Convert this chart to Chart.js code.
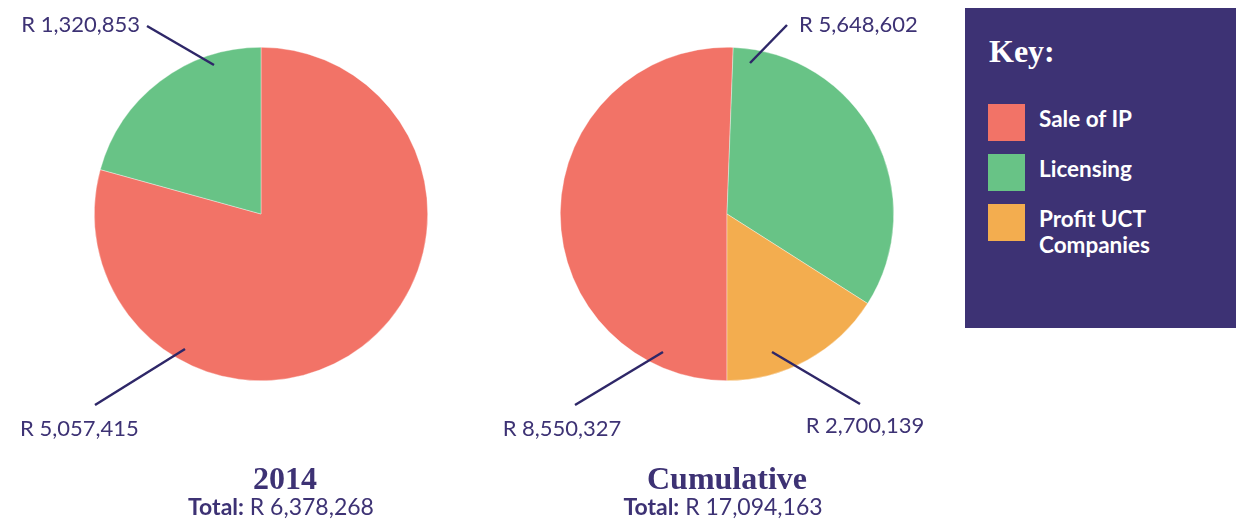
<!DOCTYPE html>
<html>
<head>
<meta charset="utf-8">
<script src="https://cdn.jsdelivr.net/npm/chart.js@4.4.0/dist/chart.umd.min.js"></script>
<style>
  body { margin: 0; background: #fff; width: 1236px; height: 519px; overflow: hidden; position: relative; font-family: Lato, sans-serif; }
  #pie1 { position: absolute; left: 0; top: 0; }
  #pie2 { position: absolute; left: 500px; top: 0; }
  #key { position: absolute; left: 965px; top: 8px; width: 271px; height: 320px; background: #3d3274; color: #fff; }
  #key h2 { position: absolute; left: 24px; top: 27px; margin: 0; font: bold 32px "Liberation Serif", serif; line-height: 32px; }
  .sw { position: absolute; left: 23px; width: 37px; height: 37px; }
  .lb { position: absolute; left: 74px; font: bold 22.5px Lato, sans-serif; line-height: 26px; }
</style>
</head>
<body>
<canvas id="pie1" width="500" height="519"></canvas>
<canvas id="pie2" width="465" height="519"></canvas>
<div id="key"><h2>Key:</h2></div>
<script>
    // Datos de las gráficas
    const categories = ['Sale of IP', 'Licensing', 'Profit UCT Companies'];
    const keyLabels = ['Sale of IP', 'Licensing', 'Profit UCT<br>Companies'];
    const colors = ['#f27367', '#68c386', '#f3ad4f'];
    const values2014 = [5057415, 1320853];
    const valuesCumulative = [8550327, 5648602, 2700139];
    const titles = ['2014', 'Cumulative'];
    const totals = [6378268, 17094163];

    const ink = '#3d3274';
    const money = v => 'R ' + v.toLocaleString('en-US');

    // Etiquetas con líneas guía y título inferior
    const calloutPlugin = {
        id: 'callouts',
        afterDraw(chart, args, opts) {
            const ctx = chart.ctx;
            const arc = chart.getDatasetMeta(0).data[0];
            const cx = arc.x, cy = arc.y;
            const values = chart.data.datasets[0].data;
            ctx.save();
            opts.items.forEach(it => {
                ctx.strokeStyle = '#2e2768';
                ctx.lineWidth = 2.5;
                ctx.beginPath();
                ctx.moveTo(cx + it.inner[0], cy + it.inner[1]);
                ctx.lineTo(cx + it.outer[0], cy + it.outer[1]);
                ctx.stroke();
                ctx.fillStyle = ink;
                ctx.font = '22px Lato';
                ctx.textAlign = it.align;
                ctx.textBaseline = 'alphabetic';
                ctx.fillText(money(values[it.index]), cx + it.text[0], cy + it.text[1]);
            });
            // título
            const tx = cx + opts.titleShift;
            ctx.textAlign = 'center';
            ctx.font = 'bold 32px "Liberation Serif"';
            ctx.fillText(opts.title, tx, 489);
            const bold = 'Total:';
            const rest = ' ' + money(opts.total);
            ctx.font = 'bold 23px Lato';
            const w1 = ctx.measureText(bold).width;
            ctx.font = '23px Lato';
            const w2 = ctx.measureText(rest).width;
            const x0 = tx - 4 - (w1 + w2) / 2;
            ctx.textAlign = 'left';
            ctx.font = 'bold 23px Lato';
            ctx.fillText(bold, x0, 515);
            ctx.font = '23px Lato';
            ctx.fillText(rest, x0 + w1, 515);
            ctx.restore();
        }
    };

    function makePie(id, values, rotation, padding, items, idx, shift) {
        new Chart(document.getElementById(id), {
            type: 'pie',
            data: {
                labels: categories.slice(0, values.length),
                datasets: [{
                    data: values,
                    backgroundColor: colors.slice(0, values.length),
                    borderColor: 'rgba(255,255,255,0.6)',
                    borderWidth: 0.6,
                }]
            },
            options: {
                responsive: false,
                animation: false,
                rotation: rotation,
                layout: { padding: padding },
                plugins: {
                    legend: { display: false },
                    tooltip: { enabled: false },
                    callouts: { items: items, title: titles[idx], total: totals[idx], titleShift: shift }
                }
            },
            plugins: [calloutPlugin]
        });
    }

    makePie('pie1', values2014, 0, { left: 94, right: 72, top: 47, bottom: 138 }, [
        { index: 0, inner: [-76, 135], outer: [-166, 191], text: [-241, 222], align: 'left' },
        { index: 1, inner: [-47, -149], outer: [-114, -188], text: [-121, -182], align: 'right' },
    ], 0, 24);

    makePie('pie2', valuesCumulative, 180, { left: 60, right: 71, top: 47, bottom: 138 }, [
        { index: 0, inner: [-64, 138], outer: [-152, 191], text: [-165, 222], align: 'center' },
        { index: 1, inner: [23, -151], outer: [60, -189], text: [72, -182], align: 'left' },
        { index: 2, inner: [45, 138], outer: [133, 190], text: [138, 219], align: 'center' },
    ], 1, 0);

    // Leyenda
    const key = document.getElementById('key');
    categories.forEach((c, i) => {
        const sw = document.createElement('div');
        sw.className = 'sw';
        sw.style.top = (96 + i * 50) + 'px';
        sw.style.background = colors[i];
        key.appendChild(sw);
        const lb = document.createElement('div');
        lb.className = 'lb';
        lb.style.top = (98 + i * 50) + 'px';
        lb.innerHTML = keyLabels[i];
        key.appendChild(lb);
    });
</script>
</body>
</html>
